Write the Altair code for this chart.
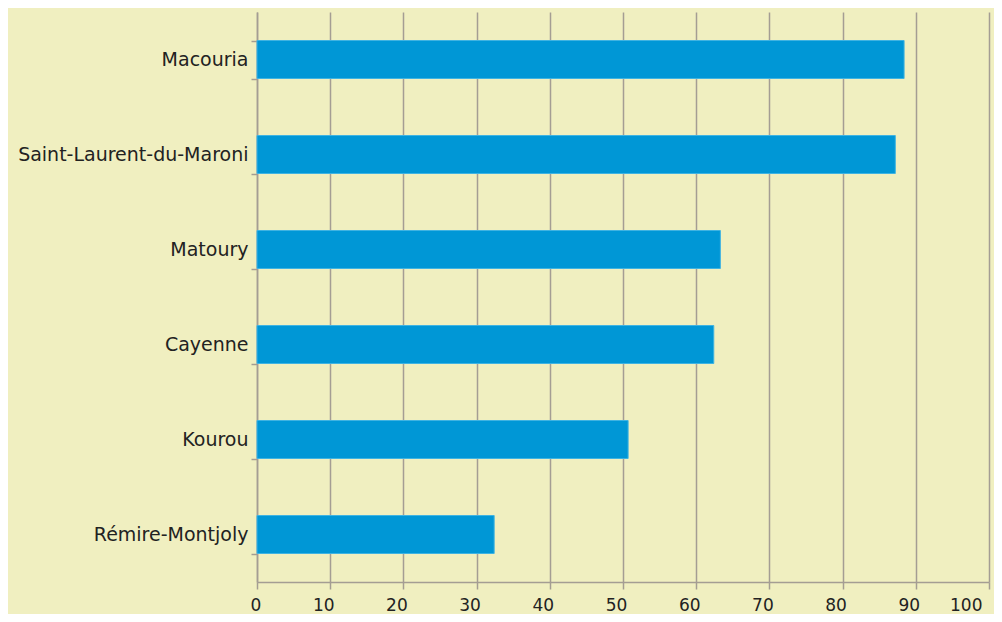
import altair as alt
import pandas as pd

communes = ["Macouria", "Saint-Laurent-du-Maroni", "Matoury", "Cayenne", "Kourou", "Rémire-Montjoly"]
valeurs = [88.4, 87.2, 63.3, 62.4, 50.7, 32.4]
x_ticks = [0, 10, 20, 30, 40, 50, 60, 70, 80, 90, 100]

df = pd.DataFrame({"commune": communes, "valeur": valeurs})

axis_col = "#a49d93"

chart = alt.Chart(df).mark_bar(color="#0097d6", stroke="#3fb3e2", strokeWidth=1).encode(
    x=alt.X("valeur:Q", scale=alt.Scale(domain=[0, 100], nice=False),
            axis=alt.Axis(values=x_ticks, title=None, grid=True, gridColor=axis_col, gridWidth=1.5,
                          domainColor=axis_col, domainWidth=1.5, tickColor=axis_col, tickWidth=1.5,
                          tickSize=7, labelFontSize=17, labelColor="#222222", labelPadding=8,
                          labelOffset=-7, labelFont="DejaVu Sans", labelFontWeight="normal")),
    y=alt.Y("commune:N", sort=communes, scale=alt.Scale(paddingInner=0.6, paddingOuter=0.3),
            axis=alt.Axis(title=None, tickBand="extent", domainColor=axis_col, domainWidth=1.5,
                          tickColor=axis_col, tickWidth=1.5, tickSize=6, labelFontSize=19,
                          labelColor="#222222", labelPadding=3, labelFont="DejaVu Sans",
                          labelLimit=300)),
).properties(
    width=732, height=570,
    background="#f0efc0",
    padding={"left": 249, "top": 4, "right": 5, "bottom": 32},
    autosize=alt.AutoSizeParams(type="none"),
).configure_view(stroke=None)

chart.save("out.html", embed_options={"renderer": "svg", "actions": False})
